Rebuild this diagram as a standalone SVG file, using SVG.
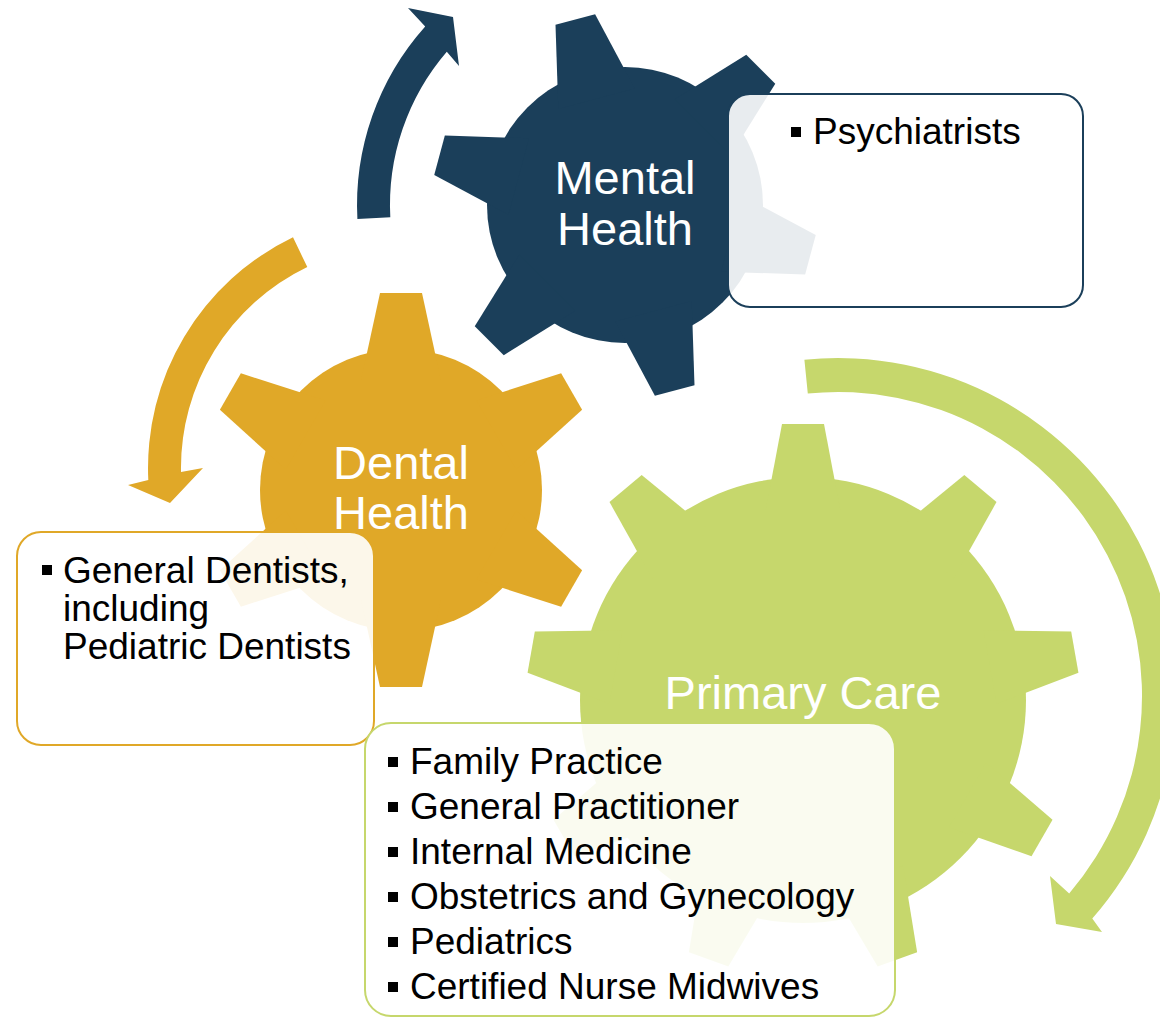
<svg xmlns="http://www.w3.org/2000/svg" width="1160" height="1018" viewBox="0 0 1160 1018">
  <style>
    .label { font-family: "Liberation Sans", Arial, sans-serif; font-size: 47px; fill: #ffffff; text-anchor: middle; }
    .item { font-family: "Liberation Sans", Arial, sans-serif; font-size: 37px; fill: #000000; }
    .box { fill: #ffffff; fill-opacity: 0.9; stroke-width: 2; }
    .bullet { fill: #000000; }
    .blue { fill: #1b3f5a; }
    .orange { fill: #e0a828; }
    .green { fill: #c6d76c; }
  </style>
  <defs>
    <polygon id="tooth6m" points="-39.6,-110 -20.5,-192 20.5,-192 39.6,-110"/>
    <polygon id="tooth6d" points="-39.9,-110 -21,-197 21,-197 39.9,-110"/>
    <polygon id="tooth9" points="-37.3,-190 -21,-276 21,-276 37.3,-190"/>
  </defs>

  <g id="connectors">
    <path class="blue" d="M357.4,219 A268,268 0 0 1 425.2,26.4 L408,8 L453,17 L459,66 L446.8,51.8 A235,235 0 0 0 390.3,217.3 Z"/>
    <path class="orange" d="M293,237.3 A256,256 0 0 0 148.3,480.1 L128,485 L170,503 L203,468 L181,471.9 A223,223 0 0 1 307.3,267.1 Z"/>
    <path class="green" d="M804.4,359.7 A338,338 0 0 1 1092.3,918.6 L1102,932 L1056,924 L1050,876 L1069.2,893.4 A304,304 0 0 0 807.8,393.5 Z"/>
  </g>

  <g id="node-mental">
    <g class="blue" transform="translate(625,205)">
      <circle r="138"/>
      <use href="#tooth6m" transform="rotate(-15)"/>
      <use href="#tooth6m" transform="rotate(45)"/>
      <use href="#tooth6m" transform="rotate(105)"/>
      <use href="#tooth6m" transform="rotate(165)"/>
      <use href="#tooth6m" transform="rotate(225)"/>
      <use href="#tooth6m" transform="rotate(285)"/>
    </g>
    <text class="label" x="625" y="194">Mental</text>
    <text class="label" x="625" y="245">Health</text>
  </g>

  <g id="node-dental">
    <g class="orange" transform="translate(401,490)">
      <circle r="141"/>
      <use href="#tooth6d" transform="rotate(0)"/>
      <use href="#tooth6d" transform="rotate(60)"/>
      <use href="#tooth6d" transform="rotate(120)"/>
      <use href="#tooth6d" transform="rotate(180)"/>
      <use href="#tooth6d" transform="rotate(240)"/>
      <use href="#tooth6d" transform="rotate(300)"/>
    </g>
    <text class="label" x="401" y="479">Dental</text>
    <text class="label" x="401" y="529">Health</text>
  </g>

  <g id="node-primary">
    <g class="green" transform="translate(803,700)">
      <circle r="223"/>
      <use href="#tooth9" transform="rotate(0)"/>
      <use href="#tooth9" transform="rotate(40)"/>
      <use href="#tooth9" transform="rotate(80)"/>
      <use href="#tooth9" transform="rotate(120)"/>
      <use href="#tooth9" transform="rotate(160)"/>
      <use href="#tooth9" transform="rotate(200)"/>
      <use href="#tooth9" transform="rotate(240)"/>
      <use href="#tooth9" transform="rotate(280)"/>
      <use href="#tooth9" transform="rotate(320)"/>
    </g>
    <text class="label" x="803" y="709">Primary Care</text>
  </g>

  <g id="box-mental">
    <rect class="box" x="728" y="94" width="355" height="213" rx="22" stroke="#1b3f5a"/>
    <rect class="bullet" x="791" y="127" width="10" height="10"/>
    <text class="item" x="813" y="144">Psychiatrists</text>
  </g>

  <g id="box-dental">
    <rect class="box" x="17" y="532" width="357" height="213" rx="24" stroke="#e0a828"/>
    <rect class="bullet" x="42" y="565" width="10" height="10"/>
    <text class="item" x="63" y="583">General Dentists,</text>
    <text class="item" x="63" y="621">including</text>
    <text class="item" x="63" y="659">Pediatric Dentists</text>
  </g>

  <g id="box-primary">
    <rect class="box" x="365" y="723" width="530" height="293" rx="26" stroke="#c6d76c"/>
    <rect class="bullet" x="388" y="757" width="10" height="10"/>
    <text class="item" x="410" y="774">Family Practice</text>
    <rect class="bullet" x="388" y="802" width="10" height="10"/>
    <text class="item" x="410" y="819">General Practitioner</text>
    <rect class="bullet" x="388" y="847" width="10" height="10"/>
    <text class="item" x="410" y="864">Internal Medicine</text>
    <rect class="bullet" x="388" y="892" width="10" height="10"/>
    <text class="item" x="410" y="909">Obstetrics and Gynecology</text>
    <rect class="bullet" x="388" y="937" width="10" height="10"/>
    <text class="item" x="410" y="954">Pediatrics</text>
    <rect class="bullet" x="388" y="982" width="10" height="10"/>
    <text class="item" x="410" y="999">Certified Nurse Midwives</text>
  </g>
</svg>
